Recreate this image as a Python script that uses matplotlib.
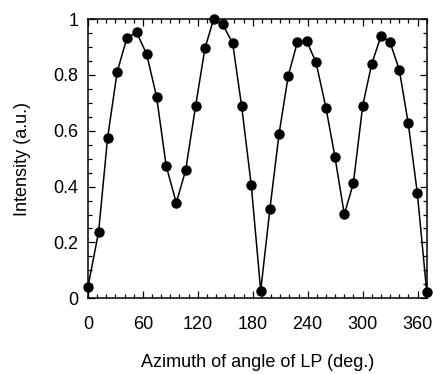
import matplotlib
matplotlib.use("Agg")
import matplotlib.pyplot as plt
from matplotlib.ticker import MultipleLocator

angle = [0, 11.7, 21.5, 32.0, 42.6, 53.2, 64.1, 75.0, 85.5, 96.5, 106.7, 117.6,
         127.8, 137.3, 147.2, 158.1, 167.9, 178.4, 188.7, 198.8, 208.7, 218.8,
         228.7, 238.9, 249.1, 260.0, 269.8, 280.0, 289.9, 300.1, 309.9, 320.1,
         329.9, 340.0, 349.8, 359.7, 370.0]
intensity = [0.040, 0.238, 0.575, 0.811, 0.933, 0.952, 0.875, 0.722, 0.474,
             0.342, 0.458, 0.688, 0.895, 1.000, 0.981, 0.913, 0.688, 0.405,
             0.027, 0.321, 0.588, 0.797, 0.917, 0.921, 0.845, 0.682, 0.506,
             0.301, 0.412, 0.690, 0.839, 0.940, 0.917, 0.819, 0.627, 0.378,
             0.024]
xticks = [0, 60, 120, 180, 240, 300, 360]
yticks = [0, 0.2, 0.4, 0.6, 0.8, 1]
ytick_labels = ["0", "0.2", "0.4", "0.6", "0.8", "1"]

plt.rcParams['font.family'] = ['Liberation Sans', 'DejaVu Sans']

fig = plt.figure(figsize=(4.33, 3.74), dpi=100)
ax = fig.add_axes([0.203, 0.2024, 0.7825, 0.7466])
ax.plot(angle, intensity, color='black', lw=1.1, marker='o', ms=6.5,
        mfc='black', mec='black', clip_on=False, zorder=3)
ax.set_xlim(0, 370)
ax.set_ylim(0, 1)
ax.set_xticks(xticks)
ax.set_xticklabels([str(t) for t in xticks])
ax.set_yticks(yticks)
ax.set_yticklabels(ytick_labels)
ax.xaxis.set_minor_locator(MultipleLocator(10))
ax.yaxis.set_minor_locator(MultipleLocator(0.05))
ax.tick_params(which='both', direction='in', top=True, right=True, width=0.9)
ax.tick_params(which='major', length=5, labelsize=13)
ax.tick_params(which='minor', length=3)
ax.tick_params(axis='x', which='major', pad=13)
ax.tick_params(axis='y', which='major', pad=7)
for s in ax.spines.values():
    s.set_linewidth(1.1)
ax.set_xlabel("Azimuth of angle of LP (deg.)", fontsize=13, labelpad=15)
ax.set_ylabel("Intensity (a.u.)", fontsize=13, labelpad=16)
fig.savefig("out.png", dpi=100)
